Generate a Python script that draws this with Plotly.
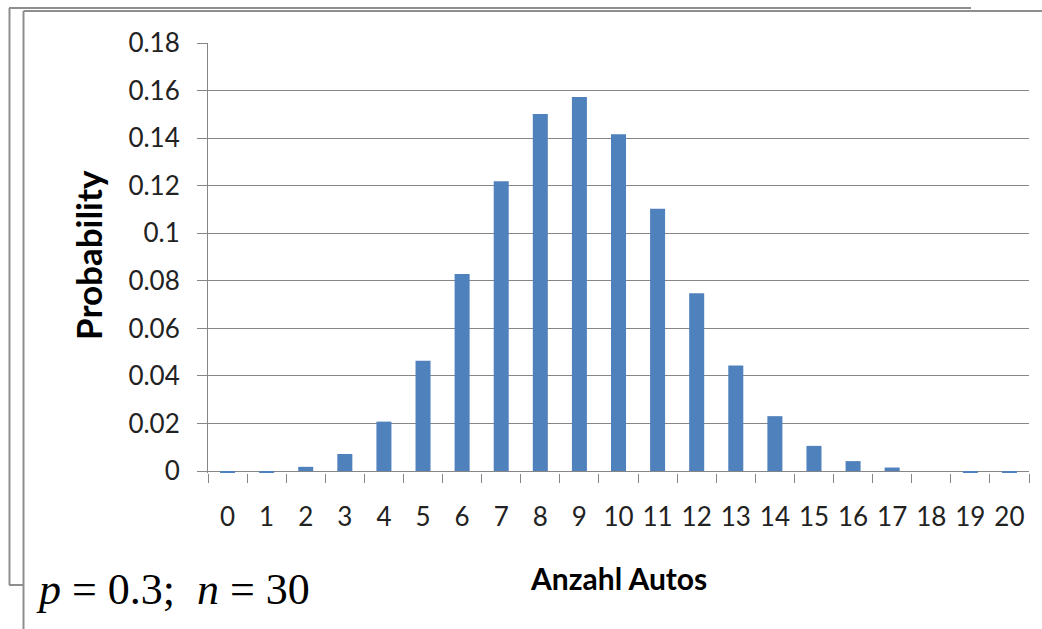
import plotly.graph_objects as go

# Data (binomial p=0.3, n=30)
categories = [str(k) for k in range(21)]
probabilities = [-0.0006, -0.0006, 0.0018, 0.0072, 0.0208, 0.0464, 0.0829, 0.1219,
                 0.1501, 0.1573, 0.1416, 0.1103, 0.0748, 0.0444, 0.0231, 0.0106,
                 0.0042, 0.0015, 0.0, -0.0006, -0.0006]
y_tick_vals = [0, 0.02, 0.04, 0.06, 0.08, 0.10, 0.12, 0.14, 0.16, 0.18]
y_tick_text = ["0", "0.02", "0.04", "0.06", "0.08", "0.1", "0.12", "0.14", "0.16", "0.18"]

W, H = 1042, 629
ML, MR, MT, MB = 208, 13, 43, 156
PW = W - ML - MR
PH = H - MT - MB


def px(x):
    return (x - ML) / PW


def py(y):
    return (H - MB - y) / PH


GRID = "#868686"
BLUE = "#4F81BD"

fig = go.Figure(go.Bar(x=categories, y=probabilities, marker=dict(color=BLUE, line=dict(width=0))))

frame = "#8e8e8e"
shapes = []
# back frame (top, left, small bottom piece)
for (x0, y0, x1, y1) in [(9, 8, 971, 8), (9.5, 8, 9.5, 585), (9, 585, 23, 585),
                         # front frame (top, left)
                         (23.5, 11, 1045, 11), (23.5, 11, 23.5, 640)]:
    shapes.append(dict(type="line", xref="paper", yref="paper",
                       x0=px(x0), y0=py(y0), x1=px(x1), y1=py(y1),
                       line=dict(color=frame, width=2), layer="below"))

annotations = [
    dict(text="<b>Probability</b>", xref="paper", yref="paper", x=px(88), y=py(255),
         textangle=-90, showarrow=False, xanchor="center", yanchor="middle",
         font=dict(family="Lato", size=35, color="#000000")),
    dict(text="<b>Anzahl Autos</b>", xref="paper", yref="paper", x=px(618), y=py(578),
         showarrow=False, xanchor="center", yanchor="middle",
         font=dict(family="Lato", size=30, color="#000000")),
    dict(text="<i>p</i>\u00a0=\u00a00.3;\u00a0\u00a0<i>n</i>\u00a0=\u00a030", xref="paper", yref="paper",
         x=px(34), y=py(589), showarrow=False, xanchor="left", yanchor="middle",
         font=dict(family="Liberation Serif", size=44, color="#000000")),
]

fig.update_layout(
    width=W, height=H,
    margin=dict(l=ML, r=MR, t=MT, b=MB, pad=0),
    paper_bgcolor="white", plot_bgcolor="white",
    showlegend=False, bargap=0.616,
    shapes=shapes, annotations=annotations,
    font=dict(family="Lato", size=26, color="#222222"),
)
fig.update_xaxes(type="category", showgrid=False, showline=False, zeroline=False,
                 ticks="outside", ticklen=9, tickcolor=GRID, tickwidth=1,
                 tickson="boundaries", ticklabelstandoff=26, tickangle=0, automargin=False,
                 tickfont=dict(family="Lato", size=26, color="#222222"))
fig.update_yaxes(range=[-0.0008, 0.18], tickvals=y_tick_vals, ticktext=y_tick_text,
                 showgrid=True, gridcolor=GRID, gridwidth=1,
                 zeroline=True, zerolinecolor=GRID, zerolinewidth=1,
                 showline=True, linecolor=GRID, linewidth=1,
                 ticks="outside", ticklen=10, tickcolor=GRID, tickwidth=1,
                 ticklabelstandoff=12, automargin=False,
                 tickfont=dict(family="Lato", size=26, color="#222222"))

fig.write_html("out.html")
